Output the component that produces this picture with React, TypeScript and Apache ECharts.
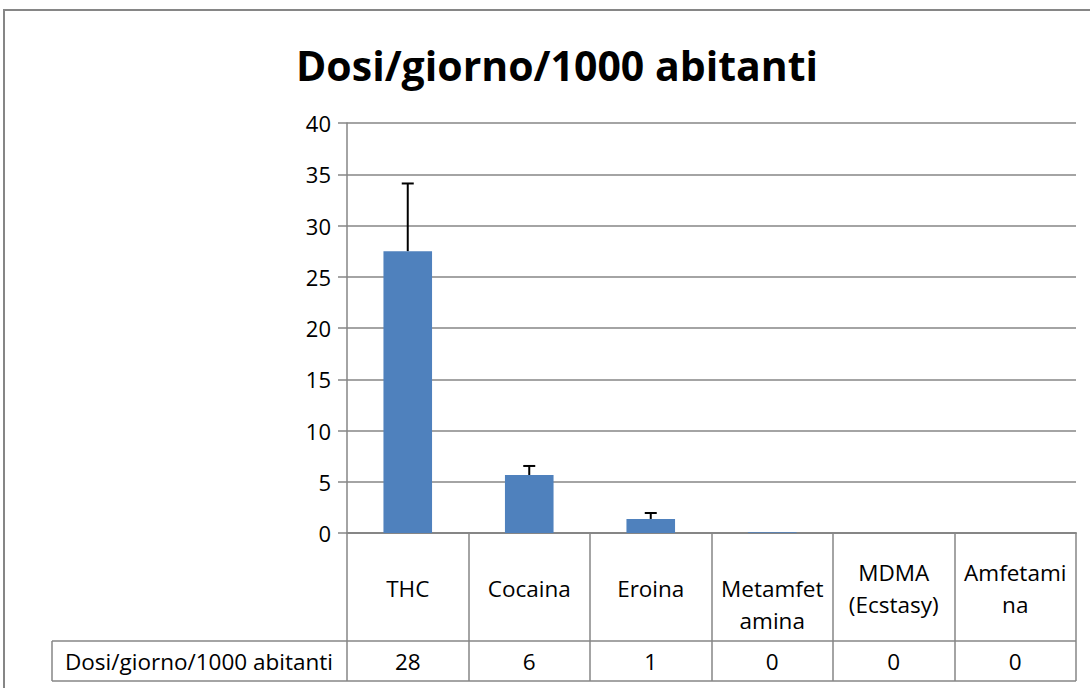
import React, { useEffect, useRef } from "react";
import * as echarts from "echarts";

const categories = ["THC", "Cocaina", "Eroina", "\nMetamfet\namina", "MDMA\n(Ecstasy)", "Amfetami\nna"];
const values = [27.5, 5.66, 1.37, 0.08, 0, 0];
const errorTops = [34.1, 6.54, 1.95, 0.08, 0, 0];
const tableValues = ["28", "6", "1", "0", "0", "0"];
const yTicks = { min: 0, max: 40, interval: 5 };
const seriesName = "Dosi/giorno/1000 abitanti";
const titleText = "Dosi/giorno/1000 abitanti";

const FONT = "'Open Sans', sans-serif";
const GRID_LEFT = 347;
const GRID_RIGHT_X = 1076;
const GRID_TOP = 123;
const AXIS_Y = 533;
const ROW_Y = 641;
const TABLE_BOTTOM = 681;
const GREY = "#868686";

export default function App() {
  const ref = useRef<HTMLDivElement>(null);
  useEffect(() => {
    if (!ref.current) return;
    const chart = echarts.init(ref.current, null, { renderer: "svg" });
    const errData = categories.map((_, i) => [i, values[i], errorTops[i]]).filter((d) => d[2] > d[1]);
    chart.setOption({
      animation: false,
      backgroundColor: "#ffffff",
      grid: { left: GRID_LEFT, right: 1090 - GRID_RIGHT_X, top: GRID_TOP, bottom: 688 - AXIS_Y, containLabel: false },
      xAxis: [
        {
          type: "category",
          data: categories,
          boundaryGap: true,
          axisLine: { show: true, lineStyle: { color: GREY, width: 2 } },
          axisTick: { show: true, interval: 0, length: TABLE_BOTTOM - AXIS_Y, lineStyle: { color: GREY, width: 1.5 } },
          axisLabel: {
            interval: 0,
            margin: 55,
            verticalAlign: "middle",
            fontFamily: FONT,
            fontSize: 22.5,
            lineHeight: 32,
            color: "#000",
          },
        },
        {
          type: "category",
          data: tableValues,
          position: "bottom",
          boundaryGap: true,
          axisLine: { show: false },
          axisTick: { show: false },
          axisLabel: {
            interval: 0,
            margin: 128,
            verticalAlign: "middle",
            fontFamily: FONT,
            fontSize: 22.5,
            color: "#000",
          },
        },
      ],
      yAxis: {
        type: "value",
        min: yTicks.min,
        max: yTicks.max,
        interval: yTicks.interval,
        axisLine: { show: true, lineStyle: { color: GREY, width: 1.5 } },
        axisTick: { show: true, length: 9, lineStyle: { color: GREY, width: 1.5 } },
        splitLine: { show: true, lineStyle: { color: GREY, width: 1.5 } },
        axisLabel: { fontFamily: FONT, fontSize: 22, color: "#000", margin: 16 },
      },
      series: [
        {
          name: seriesName,
          type: "bar",
          data: values,
          barWidth: "40%",
          itemStyle: { color: "#4F81BD" },
        },
        {
          type: "custom",
          data: errData,
          z: 10,
          renderItem: (params: any, api: any) => {
            const x = api.value(0);
            const base = api.coord([x, api.value(1)]);
            const top = api.coord([x, api.value(2)]);
            const cap = 6;
            return {
              type: "group",
              children: [
                { type: "line", shape: { x1: base[0], y1: base[1], x2: top[0], y2: top[1] }, style: { stroke: "#000", lineWidth: 2 } },
                { type: "line", shape: { x1: top[0] - cap, y1: top[1], x2: top[0] + cap, y2: top[1] }, style: { stroke: "#000", lineWidth: 2 } },
              ],
            };
          },
        },
      ],
      graphic: [
        { type: "rect", shape: { x: 4, y: 10, width: 1200, height: 800 }, style: { fill: "none", stroke: GREY, lineWidth: 2 }, silent: true },
        {
          type: "text",
          x: 557,
          y: 65,
          style: { text: titleText, fontFamily: FONT, fontWeight: "bold", fontSize: 41, fill: "#000", textAlign: "center", textVerticalAlign: "middle" },
        },
        { type: "line", shape: { x1: 52, y1: ROW_Y, x2: GRID_RIGHT_X, y2: ROW_Y }, style: { stroke: GREY, lineWidth: 1.5 } },
        { type: "line", shape: { x1: 52, y1: TABLE_BOTTOM, x2: GRID_RIGHT_X, y2: TABLE_BOTTOM }, style: { stroke: GREY, lineWidth: 1.5 } },
        { type: "line", shape: { x1: 52, y1: ROW_Y, x2: 52, y2: TABLE_BOTTOM }, style: { stroke: GREY, lineWidth: 1.5 } },
        {
          type: "text",
          x: 199,
          y: 661,
          style: { text: seriesName, fontFamily: FONT, fontSize: 22.5, fill: "#000", textAlign: "center", textVerticalAlign: "middle" },
        },
      ],
    });
    return () => chart.dispose();
  }, []);
  return <div ref={ref} style={{ position: "fixed", left: 0, top: 0, width: 1090, height: 688 }} />;
}
